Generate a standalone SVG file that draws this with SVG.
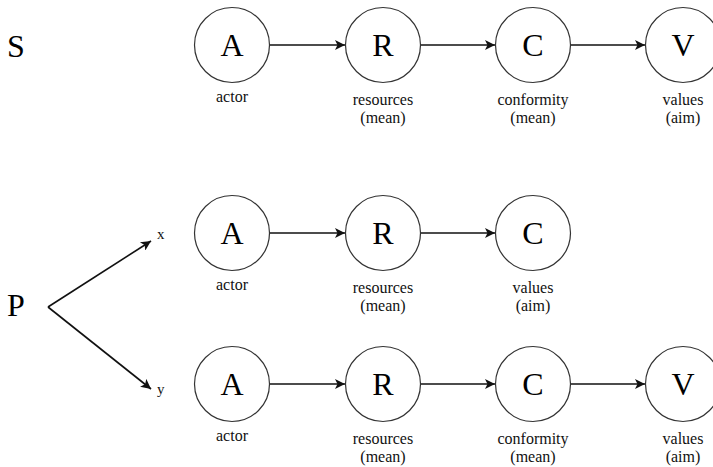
<svg xmlns="http://www.w3.org/2000/svg" width="713" height="467" viewBox="0 0 713 467">
  <style>
    .node circle { fill: #ffffff; stroke: #333333; stroke-width: 1.2; }
    text { font-family: 'Liberation Serif', 'Times New Roman', Times, 'DejaVu Serif', serif; fill: #000; }
    .big { font-size: 32px; text-anchor: middle; }
    .lbl { font-size: 16px; fill: #111; text-anchor: middle; }
    .sm { font-size: 15px; fill: #111; }
    .edge { stroke: #111; stroke-width: 1.6; fill: none; marker-end: url(#arr); }
  </style>
  <defs>
    <marker id="arr" viewBox="0 0 10 10" refX="10" refY="5" markerWidth="11" markerHeight="10" markerUnits="userSpaceOnUse" orient="auto">
      <path d="M0,0 L10,5 L0,10 L2.5,5 Z" fill="#111"/>
    </marker>
  </defs>
  <rect width="713" height="467" fill="#ffffff"/>

  <text class="big" x="16" y="57" font-family="Liberation Serif, serif">S</text>
  <text class="big" x="16" y="316" font-family="Liberation Serif, serif">P</text>

  <g id="connectors">
    <line class="edge" x1="270" y1="45" x2="345" y2="45"/>
    <line class="edge" x1="421" y1="45" x2="495" y2="45"/>
    <line class="edge" x1="571" y1="45" x2="645" y2="45"/>
    <line class="edge" x1="270" y1="233" x2="345" y2="233"/>
    <line class="edge" x1="421" y1="233" x2="495" y2="233"/>
    <line class="edge" x1="270" y1="384" x2="345" y2="384"/>
    <line class="edge" x1="421" y1="384" x2="495" y2="384"/>
    <line class="edge" x1="571" y1="384" x2="645" y2="384"/>
    <line class="edge" x1="48" y1="307" x2="151" y2="241"/>
    <line class="edge" x1="48" y1="307" x2="151" y2="389"/>
  </g>

  <text class="sm" x="157" y="239">x</text>
  <text class="sm" x="157" y="394">y</text>

  <g id="s-A" class="node"><circle cx="232" cy="45" r="37.5"/><text class="big" x="232" y="56">A</text><text class="lbl" x="232" y="102">actor</text></g>
  <g id="s-R" class="node"><circle cx="383" cy="45" r="37.5"/><text class="big" x="383" y="56">R</text><text class="lbl" x="383" y="105">resources</text><text class="lbl" x="383" y="123">(mean)</text></g>
  <g id="s-C" class="node"><circle cx="533" cy="45" r="37.5"/><text class="big" x="533" y="56">C</text><text class="lbl" x="533" y="105">conformity</text><text class="lbl" x="533" y="123">(mean)</text></g>
  <g id="s-V" class="node"><circle cx="683" cy="45" r="37.5"/><text class="big" x="683" y="56">V</text><text class="lbl" x="683" y="105">values</text><text class="lbl" x="683" y="123">(aim)</text></g>

  <g id="x-A" class="node"><circle cx="232" cy="233" r="37.5"/><text class="big" x="232" y="244">A</text><text class="lbl" x="232" y="290">actor</text></g>
  <g id="x-R" class="node"><circle cx="383" cy="233" r="37.5"/><text class="big" x="383" y="244">R</text><text class="lbl" x="383" y="293">resources</text><text class="lbl" x="383" y="311">(mean)</text></g>
  <g id="x-C" class="node"><circle cx="533" cy="233" r="37.5"/><text class="big" x="533" y="244">C</text><text class="lbl" x="533" y="293">values</text><text class="lbl" x="533" y="311">(aim)</text></g>

  <g id="y-A" class="node"><circle cx="232" cy="384" r="37.5"/><text class="big" x="232" y="395">A</text><text class="lbl" x="232" y="441">actor</text></g>
  <g id="y-R" class="node"><circle cx="383" cy="384" r="37.5"/><text class="big" x="383" y="395">R</text><text class="lbl" x="383" y="444">resources</text><text class="lbl" x="383" y="462">(mean)</text></g>
  <g id="y-C" class="node"><circle cx="533" cy="384" r="37.5"/><text class="big" x="533" y="395">C</text><text class="lbl" x="533" y="444">conformity</text><text class="lbl" x="533" y="462">(mean)</text></g>
  <g id="y-V" class="node"><circle cx="683" cy="384" r="37.5"/><text class="big" x="683" y="395">V</text><text class="lbl" x="683" y="444">values</text><text class="lbl" x="683" y="462">(aim)</text></g>
</svg>
